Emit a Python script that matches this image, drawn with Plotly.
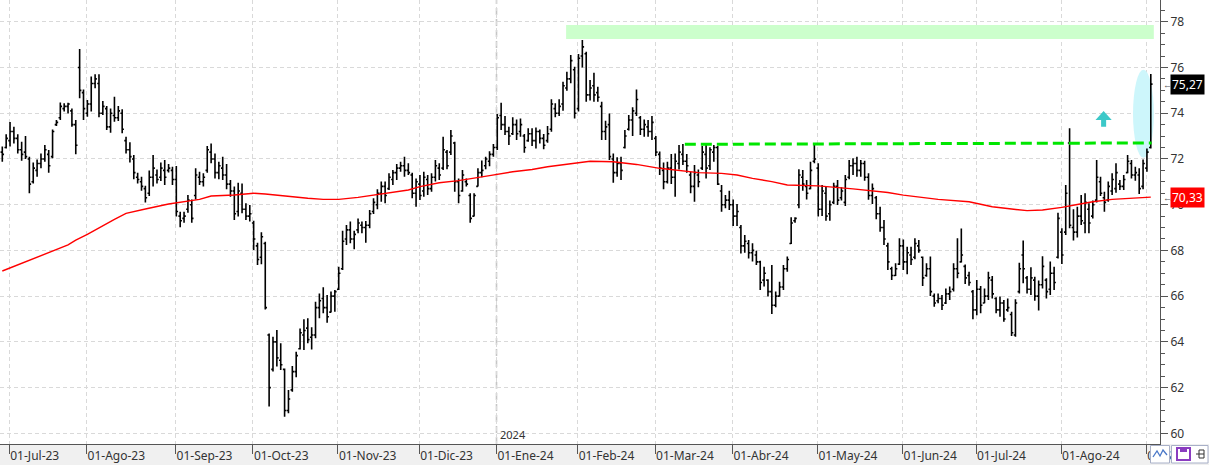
import pandas as pd
import plotly.graph_objects as go

# ---------------- data ----------------
first_day = "2023-06-29"
last_day = "2024-09-04"
market_holidays = ["2023-07-04", "2023-09-04", "2023-11-23", "2023-12-25", "2024-01-01",
                   "2024-01-15", "2024-02-19", "2024-03-29", "2024-05-27", "2024-06-19",
                   "2024-07-04", "2024-09-02"]
month_abbr = ["Ene", "Feb", "Mar", "Abr", "May", "Jun", "Jul", "Ago", "Sep", "Oct", "Nov", "Dic"]

high = [72.54, 73.08, 73.61, 73.41, 73.08, 72.75, 73.0, 72.1, 71.84, 71.98,
        72.24, 72.61, 72.39, 73.29, 73.7, 74.47, 74.43, 74.46, 74.21, 73.7,
        76.81, 75.04, 74.58, 75.6, 75.7, 75.7, 74.53, 74.31, 74.21, 74.72,
        74.31, 74.17, 72.97, 72.73, 72.17, 71.4, 71.22, 70.83, 71.49, 72.17,
        71.54, 71.84, 71.95, 71.78, 71.66, 71.69, 69.69, 69.69, 70.42, 70.23,
        71.59, 71.44, 71.37, 72.57, 72.68, 72.24, 71.88, 72.1, 71.78, 71.08,
        70.79, 70.96, 70.93, 70.06, 69.99, 69.3, 68.34, 68.79, 68.38, 64.37,
        64.23, 64.52, 63.94, 62.84, 61.9, 62.95, 63.57, 64.59, 64.99, 65.03,
        64.64, 65.76, 66.12, 66.39, 66.05, 66.2, 66.27, 67.29, 68.86, 69.11,
        69.26, 68.86, 69.4, 69.26, 69.29, 69.77, 70.28, 70.67, 71.01, 71.01,
        71.37, 71.52, 71.78, 71.88, 72.1, 71.81, 71.4, 71.15, 71.3, 71.44,
        71.3, 71.37, 71.95, 71.81, 72.97, 72.39, 73.27, 72.75, 71.15, 71.52,
        71.15, 70.5, 70.5, 71.59, 71.93, 72.1, 72.34, 72.65, 73.96, 74.46,
        73.88, 73.41, 73.82, 73.73, 73.77, 73.09, 73.34, 73.34, 73.38, 73.29,
        73.09, 73.44, 74.61, 74.43, 74.61, 75.38, 75.81, 76.54, 76.03, 76.59,
        77.2, 76.69, 75.45, 75.77, 75.16, 74.5, 73.67, 73.99, 72.24, 72.07,
        72.1, 73.27, 73.92, 74.26, 75.04, 73.88, 73.73, 73.7, 73.88, 73.0,
        72.32, 71.84, 71.88, 72.22, 72.24, 72.61, 72.65, 72.22, 71.44, 71.74,
        71.54, 72.57, 72.61, 72.51, 72.61, 72.57, 70.86, 70.42, 70.61, 70.23,
        70.03, 69.11, 68.67, 68.45, 68.31, 67.99, 67.55, 67.29, 66.74, 67.36,
        66.2, 66.63, 67.36, 67.73, 69.45, 69.45, 71.55, 71.52, 71.08, 71.88,
        72.61, 71.81, 70.86, 70.82, 70.18, 70.96, 71.08, 70.76, 71.3, 71.95,
        72.03, 72.1, 71.95, 71.92, 71.37, 70.93, 70.38, 69.91, 69.33, 68.34,
        67.29, 67.44, 68.53, 68.48, 68.16, 68.16, 68.53, 68.45, 67.73, 67.44,
        67.73, 66.12, 66.12, 66.05, 66.34, 66.42, 67.44, 68.53, 68.96, 67.38,
        67.07, 66.27, 66.71, 66.44, 66.34, 67.07, 66.88, 65.95, 65.98, 65.83,
        65.9, 65.32, 65.86, 67.46, 68.43, 66.88, 67.26, 66.85, 66.68, 67.75,
        66.78, 67.51, 67.29, 69.65, 68.97, 70.86, 73.34, 69.8, 69.91, 70.42,
        70.5, 70.06, 70.18, 71.95, 71.22, 70.57, 71.01, 71.37, 71.81, 71.08,
        71.3, 72.17, 71.95, 71.66, 71.59, 71.98, 72.46, 75.71]

low = [71.88, 72.46, 72.54, 72.68, 72.24, 71.92, 72.0, 70.5, 70.93, 71.22,
       71.59, 71.88, 71.4, 72.03, 73.44, 73.7, 74.07, 73.99, 73.41, 72.2,
       74.65, 73.7, 73.85, 74.07, 75.09, 73.82, 73.92, 73.26, 73.15, 73.63,
       73.66, 73.12, 72.24, 71.84, 71.11, 70.93, 70.61, 70.09, 70.38, 70.79,
       70.93, 71.03, 70.86, 71.41, 70.86, 69.48, 69.01, 69.21, 69.65, 69.21,
       70.23, 70.86, 70.79, 71.4, 71.81, 71.15, 71.11, 71.08, 70.67, 70.35,
       69.33, 69.48, 69.62, 69.33, 69.26, 68.02, 67.36, 67.39, 65.42, 61.17,
       62.7, 62.92, 62.77, 60.73, 60.88, 61.82, 62.45, 63.67, 63.65, 63.94,
       63.67, 64.16, 65.03, 65.25, 64.84, 65.28, 65.32, 66.27, 67.14, 68.24,
       68.31, 68.05, 68.75, 68.75, 68.34, 68.97, 69.59, 69.8, 70.13, 70.06,
       70.64, 70.86, 71.08, 71.44, 71.22, 71.3, 70.28, 69.91, 70.2, 70.35,
       70.42, 70.57, 71.01, 71.08, 71.52, 71.55, 72.17, 70.57, 70.06, 70.57,
       70.79, 69.21, 69.48, 70.79, 71.2, 71.55, 71.68, 72.1, 72.39, 73.27,
       73.05, 72.61, 73.05, 72.83, 72.97, 72.27, 72.75, 72.57, 72.46, 72.68,
       72.42, 72.71, 73.19, 73.82, 73.88, 74.11, 74.98, 75.31, 73.77, 74.07,
       76.0, 74.5, 74.55, 74.5, 74.5, 72.83, 72.83, 71.95, 70.96, 71.22,
       71.08, 72.46, 73.24, 73.0, 73.88, 73.05, 72.97, 72.97, 72.83, 72.13,
       71.3, 70.67, 70.93, 70.9, 70.35, 71.54, 71.74, 71.4, 70.5, 70.13,
       70.76, 71.52, 71.15, 71.52, 71.88, 70.86, 69.69, 69.84, 69.77, 69.07,
       69.07, 67.87, 67.9, 67.65, 67.51, 67.36, 66.27, 66.42, 65.98, 65.22,
       65.51, 65.98, 66.27, 67.07, 68.28, 69.21, 69.84, 70.61, 70.23, 70.67,
       71.81, 69.48, 69.5, 69.3, 69.3, 70.03, 69.99, 70.18, 69.94, 71.11,
       71.3, 71.22, 71.22, 71.05, 70.21, 70.03, 69.36, 68.82, 68.24, 67.14,
       66.71, 66.88, 67.36, 67.14, 66.96, 67.36, 67.61, 67.9, 66.44, 66.85,
       66.01, 65.54, 65.69, 65.39, 65.66, 65.83, 66.2, 66.78, 67.47, 66.53,
       66.45, 64.99, 65.17, 65.25, 65.69, 65.83, 65.9, 65.25, 65.1, 64.88,
       65.32, 64.26, 64.23, 66.12, 66.56, 66.12, 66.05, 65.8, 65.37, 66.34,
       65.9, 66.05, 66.27, 67.65, 67.41, 68.67, 68.97, 68.43, 68.57, 69.11,
       68.75, 68.75, 69.4, 70.09, 70.38, 69.69, 70.13, 70.42, 70.52, 70.64,
       70.64, 71.37, 71.15, 71.05, 70.47, 70.67, 71.44, 72.46]

open_ = [72.3, 72.5, 72.8, 73.2, 72.9, 72.4, 72.3, 72.0, 71.0, 71.5,
         71.8, 72.0, 72.2, 72.1, 73.5, 73.8, 74.2, 74.3, 74.1, 73.5,
         76.0, 74.9, 74.0, 74.4, 75.3, 75.3, 74.0, 74.2, 73.4, 73.9,
         73.8, 74.0, 72.8, 72.4, 72.0, 71.2, 71.0, 70.7, 70.5, 71.2,
         71.3, 71.2, 71.5, 71.5, 71.5, 71.1, 69.5, 69.4, 69.8, 70.0,
         70.4, 71.2, 71.0, 71.5, 72.3, 72.0, 71.4, 71.6, 71.3, 70.9,
         70.6, 69.7, 70.5, 69.8, 69.5, 69.2, 68.2, 67.7, 68.3, 64.3,
         62.8, 64.0, 63.2, 62.8, 61.0, 61.9, 62.7, 63.7, 64.3, 64.6,
         64.2, 64.3, 65.5, 65.9, 65.5, 65.3, 66.0, 66.3, 67.2, 68.5,
         68.9, 68.5, 68.9, 69.1, 69.0, 69.1, 69.7, 70.0, 70.5, 70.8,
         70.7, 71.1, 71.4, 71.6, 71.7, 71.5, 71.3, 70.5, 70.9, 70.6,
         71.1, 70.7, 71.2, 71.6, 71.6, 72.3, 72.3, 72.7, 71.0, 70.6,
         71.0, 70.4, 69.5, 70.8, 71.4, 71.7, 71.9, 72.2, 72.5, 73.9,
         73.5, 73.2, 73.1, 73.5, 73.2, 73.0, 72.8, 73.1, 72.8, 73.2,
         72.9, 72.8, 73.3, 74.2, 74.0, 74.4, 75.1, 75.5, 75.9, 74.2,
         76.5, 76.6, 74.8, 75.2, 74.9, 74.3, 73.2, 73.5, 72.0, 71.4,
         71.8, 72.5, 73.3, 73.7, 74.0, 73.8, 73.3, 73.4, 73.2, 72.9,
         72.2, 71.5, 71.0, 71.6, 71.2, 71.8, 72.2, 71.9, 71.3, 70.8,
         71.3, 71.6, 72.2, 71.7, 72.3, 72.5, 70.6, 70.0, 70.2, 70.0,
         69.5, 69.0, 68.2, 68.3, 67.9, 67.8, 67.5, 66.7, 66.7, 66.2,
         65.6, 66.0, 66.4, 67.2, 68.3, 69.3, 70.0, 71.2, 70.8, 70.7,
         71.9, 71.6, 69.8, 70.5, 69.6, 70.1, 70.8, 70.3, 70.1, 71.2,
         71.7, 71.8, 71.5, 71.8, 71.2, 70.4, 70.3, 69.6, 69.0, 68.2,
         67.2, 66.9, 67.4, 68.2, 67.5, 67.8, 67.7, 68.2, 67.7, 66.9,
         67.2, 66.0, 65.8, 65.9, 65.7, 66.1, 66.3, 67.2, 67.5, 67.3,
         66.9, 66.2, 65.4, 66.3, 65.7, 66.0, 66.7, 65.9, 65.4, 65.7,
         65.4, 65.2, 64.3, 66.2, 67.8, 66.8, 66.3, 66.7, 66.0, 66.5,
         66.7, 66.3, 67.0, 67.7, 68.8, 68.8, 72.7, 69.0, 68.8, 69.5,
         69.2, 69.8, 69.5, 70.2, 71.0, 70.3, 70.2, 70.6, 70.7, 70.9,
         70.8, 71.4, 71.8, 71.3, 71.3, 70.8, 71.6, 72.5]

close = [72.2, 72.9, 73.2, 72.9, 72.4, 72.2, 72.1, 70.9, 71.6, 71.8,
         72.0, 72.4, 71.7, 73.2, 73.6, 74.3, 74.3, 74.4, 73.5, 72.6,
         75.0, 74.2, 74.4, 75.3, 75.5, 74.0, 74.3, 73.4, 74.0, 73.8,
         74.1, 73.3, 72.4, 72.1, 71.4, 71.1, 70.8, 70.3, 71.2, 71.6,
         71.1, 71.6, 71.2, 71.6, 71.1, 69.7, 69.3, 69.5, 70.2, 69.4,
         71.3, 71.0, 71.2, 72.4, 72.0, 71.4, 71.7, 71.3, 70.9, 70.6,
         69.6, 70.6, 69.8, 69.5, 69.6, 68.5, 67.6, 68.6, 65.5, 62.0,
         64.0, 63.3, 63.0, 61.0, 61.5, 62.7, 63.4, 64.4, 64.5, 64.1,
         64.3, 65.5, 65.8, 65.5, 65.1, 66.0, 66.2, 67.0, 68.4, 68.9,
         68.5, 68.7, 69.2, 69.0, 69.1, 69.6, 70.1, 70.5, 70.8, 70.4,
         71.2, 71.4, 71.6, 71.7, 71.5, 71.4, 70.5, 71.0, 70.4, 71.2,
         70.7, 71.2, 71.7, 71.3, 72.4, 71.7, 73.0, 71.0, 70.4, 71.3,
         70.9, 69.4, 70.4, 71.4, 71.5, 72.0, 72.2, 72.5, 73.8, 73.5,
         73.2, 73.0, 73.5, 73.1, 73.5, 72.5, 73.1, 72.8, 73.2, 72.9,
         72.6, 73.1, 74.4, 74.0, 74.3, 75.2, 75.5, 76.3, 74.0, 76.4,
         76.9, 74.8, 75.1, 74.8, 74.7, 73.2, 73.4, 72.1, 71.4, 71.8,
         71.5, 73.0, 73.7, 74.1, 74.6, 73.3, 73.5, 73.2, 73.6, 72.3,
         71.6, 71.0, 71.6, 71.2, 71.9, 72.3, 71.9, 71.7, 70.8, 71.4,
         71.0, 72.3, 71.6, 72.4, 72.5, 70.9, 70.0, 70.2, 70.0, 69.5,
         69.7, 68.2, 68.4, 67.9, 68.0, 67.5, 66.6, 67.0, 66.2, 65.6,
         66.0, 66.4, 67.2, 67.6, 69.2, 69.4, 71.3, 70.9, 70.5, 71.5,
         72.0, 69.8, 70.6, 69.5, 70.0, 70.8, 70.2, 70.6, 71.1, 71.7,
         71.8, 71.5, 71.8, 71.2, 70.4, 70.7, 69.6, 69.0, 68.5, 67.5,
         66.9, 67.2, 68.2, 67.5, 67.9, 67.6, 68.3, 68.0, 66.8, 67.2,
         66.2, 65.7, 65.9, 65.6, 66.1, 66.2, 67.2, 67.0, 67.8, 66.8,
         66.6, 65.4, 66.3, 65.6, 66.0, 66.8, 66.1, 65.4, 65.7, 65.0,
         65.5, 64.4, 65.7, 67.2, 67.2, 66.3, 66.8, 66.0, 66.5, 67.3,
         66.2, 67.0, 66.6, 69.4, 67.8, 70.5, 69.1, 68.8, 69.5, 69.3,
         70.1, 69.2, 70.0, 71.2, 70.5, 70.1, 70.8, 71.1, 71.4, 70.8,
         71.1, 71.9, 71.3, 71.4, 70.7, 71.8, 72.3, 75.27]

# moving average (red line), read at selected sessions (index into the trading-day list)
ma_bar = [0, 5, 12, 17, 19, 22, 29, 32, 37, 43, 51, 54, 60, 65, 68, 74, 79, 83, 87, 92,
          96, 100, 105, 108, 113, 118, 122, 126, 132, 137, 141, 145, 149, 152, 158, 164,
          170, 175, 180, 186, 190, 194, 199, 203, 211, 220, 229, 233, 242, 250, 256, 261,
          265, 269, 274, 278, 282, 287, 291, 297]
ma_val = [67.10, 67.44, 67.92, 68.24, 68.45, 68.70, 69.36, 69.62, 69.81, 70.03, 70.23,
          70.38, 70.42, 70.50, 70.47, 70.35, 70.28, 70.23, 70.23, 70.32, 70.42, 70.50,
          70.64, 70.79, 70.96, 71.05, 71.15, 71.27, 71.44, 71.54, 71.66, 71.74, 71.84,
          71.90, 71.88, 71.76, 71.59, 71.49, 71.40, 71.37, 71.30, 71.15, 71.01, 70.86,
          70.82, 70.69, 70.53, 70.42, 70.23, 70.13, 69.91, 69.81, 69.74, 69.77, 69.88,
          70.01, 70.13, 70.23, 70.28, 70.33]

# drawn annotations
zone_start, zone_low, zone_high = "2024-01-29", 77.25, 77.86
resist_start, resist_v0, resist_v1 = "2024-03-12", 72.64, 72.70
ellipse_from, ellipse_to, ellipse_low, ellipse_high = "2024-08-27", "2024-09-04", 72.05, 75.90
arrow_date, arrow_tip, arrow_base, arrow_tail = "2024-08-16", 74.10, 73.70, 73.41
y_ticks = list(range(60, 79, 2))

# ---------------- derived ----------------
dates = pd.bdate_range(first_day, last_day)
dates = dates[~dates.isin(pd.to_datetime(market_holidays))]
n = len(close)
dates = dates[:n]
xs = list(range(n))
pos = {d.strftime("%Y-%m-%d"): i for i, d in enumerate(dates)}

tick_idx, tick_txt = [], []
prev = None
for i, d in enumerate(dates):
    if prev is not None and d.month != prev:
        tick_idx.append(i - 0.2)
        tick_txt.append(f"01-{month_abbr[d.month - 1]}-{d.strftime('%y')}")
    prev = d.month
jan_idx = [t for t, s in zip(tick_idx, tick_txt) if "Ene" in s][0]

PX = 3.867  # pixel per session (for ranges)
x_lo = -2.3 / PX
x_hi = x_lo + 1160 / PX

fig = go.Figure()
fig.add_trace(go.Ohlc(x=xs, open=open_, high=high, low=low, close=close,
                      increasing=dict(line=dict(color="black", width=1.6)),
                      decreasing=dict(line=dict(color="black", width=1.6)),
                      tickwidth=0.45, hoverinfo="skip", showlegend=False))
fig.add_trace(go.Scatter(x=ma_bar, y=ma_val, mode="lines",
                         line=dict(color="#ff0000", width=1.4),
                         hoverinfo="skip", showlegend=False))

grid = "#d9d9d9"
font = "Noto Sans"
shapes = []
# white background behind the price axis
shapes.append(dict(type="rect", xref="paper", yref="paper", x0=1, x1=1209 / 1160, y0=0, y1=1,
                   fillcolor="white", line=dict(width=0), layer="below"))
# resistance zone
shapes.append(dict(type="rect", xref="x", yref="y", x0=pos[zone_start] - 0.2, x1=x_hi - 1.6,
                   y0=zone_low, y1=zone_high, fillcolor="#ccffcc", line=dict(width=0), layer="between"))
# ellipse
shapes.append(dict(type="circle", xref="x", yref="y", x0=pos[ellipse_from] + 0.4,
                   x1=pos[ellipse_to] + 0.8, y0=ellipse_low, y1=ellipse_high,
                   fillcolor="#cdf6fb", line=dict(width=0), layer="between"))
# year separator
shapes.append(dict(type="line", xref="x", yref="paper", x0=jan_idx, x1=jan_idx, y0=0, y1=1,
                   line=dict(color="#c6c6c6", width=1.6, dash="7px,4px"), layer="between"))
# green dashed resistance line
shapes.append(dict(type="line", xref="x", yref="y", x0=pos[resist_start] + 0.5, x1=n - 1 + 0.2,
                   y0=resist_v0, y1=resist_v1,
                   line=dict(color="#00e600", width=3, dash="11px,5px"), layer="above"))
# cyan up arrow
ax = pos[arrow_date] - 0.2
hw, sw = 2.1, 0.65
path = (f"M {ax-hw},{arrow_base} L {ax},{arrow_tip} L {ax+hw},{arrow_base} "
        f"L {ax+sw},{arrow_base} L {ax+sw},{arrow_tail} L {ax-sw},{arrow_tail} "
        f"L {ax-sw},{arrow_base} Z")
shapes.append(dict(type="path", xref="x", yref="y", path=path, fillcolor="#3cc8c8",
                   line=dict(width=0), layer="above"))


def pxx(p):
    return p / 1160


def pyy(p):
    return (444 - p) / 444


# bottom-right tool icons
shapes.append(dict(type="rect", xref="paper", yref="paper", x0=pxx(1150.5), x1=pxx(1169.5),
                   y0=pyy(463), y1=pyy(445.5), fillcolor="white",
                   line=dict(color="#a8b0c8", width=1), layer="above"))
shapes.append(dict(type="rect", xref="paper", yref="paper", x0=pxx(1171.5), x1=pxx(1208),
                   y0=pyy(463), y1=pyy(445.5), fillcolor="white",
                   line=dict(color="#a8b0c8", width=1), layer="above"))
shapes.append(dict(type="path", xref="paper", yref="paper",
                   path=(f"M {pxx(1153)},{pyy(457)} L {pxx(1157)},{pyy(451)} L {pxx(1160)},{pyy(456)} "
                         f"L {pxx(1163)},{pyy(450)} L {pxx(1167)},{pyy(455)}"),
                   line=dict(color="#4a78c8", width=1.3), layer="above"))
shapes.append(dict(type="rect", xref="paper", yref="paper", x0=pxx(1177), x1=pxx(1190),
                   y0=pyy(460), y1=pyy(448), fillcolor="white",
                   line=dict(color="#8a3cc0", width=2), layer="above"))
shapes.append(dict(type="rect", xref="paper", yref="paper", x0=pxx(1180), x1=pxx(1187),
                   y0=pyy(452), y1=pyy(448), fillcolor="#8a3cc0",
                   line=dict(width=0), layer="above"))
shapes.append(dict(type="path", xref="paper", yref="paper",
                   path=(f"M {pxx(1196)},{pyy(454)} L {pxx(1204)},{pyy(454)} "
                         f"M {pxx(1199)},{pyy(450)} L {pxx(1199)},{pyy(458)} "
                         f"M {pxx(1199)},{pyy(450)} L {pxx(1204)},{pyy(450)} L {pxx(1204)},{pyy(458)} L {pxx(1199)},{pyy(458)}"),
                   line=dict(color="#333", width=1), layer="above"))

last_close = close[-1]
last_ma = ma_val[-1]
annotations = [
    dict(text="2024", xref="x", yref="paper", x=jan_idx, y=0, xanchor="left", yanchor="bottom",
         xshift=1, yshift=0, showarrow=False, font=dict(family=font, size=11, color="#333")),
    dict(text=f"{last_close:.2f}".replace(".", ","), xref="paper", yref="y", x=1170 / 1160,
         y=last_close, xanchor="left", yanchor="middle", showarrow=False, bgcolor="black",
         borderpad=1, font=dict(family=font, size=12, color="white")),
    dict(text=f"{last_ma:.2f}".replace(".", ","), xref="paper", yref="y", x=1170 / 1160,
         y=last_ma, xanchor="left", yanchor="middle", showarrow=False, bgcolor="#ff0000",
         borderpad=1, font=dict(family=font, size=12, color="white")),
    dict(text="←", xref="paper", yref="y", x=1160.5 / 1160, y=last_close, xanchor="left",
         yanchor="middle", showarrow=False, font=dict(family=font, size=9, color="#555")),
    dict(text="←", xref="paper", yref="y", x=1160.5 / 1160, y=last_ma, xanchor="left",
         yanchor="middle", showarrow=False, font=dict(family=font, size=9, color="#555")),
]

fig.update_layout(
    width=1209, height=465,
    margin=dict(l=0, r=49, t=0, b=21),
    paper_bgcolor="#f0f0f0", plot_bgcolor="white",
    shapes=shapes, annotations=annotations,
    showlegend=False,
    xaxis=dict(range=[x_lo, x_hi], tickmode="array", tickvals=tick_idx, ticktext=tick_txt,
               ticks="outside", ticklen=9, tickcolor="#555", tickwidth=1,
               showline=True, linecolor="#555", linewidth=1,
               showgrid=True, gridcolor=grid, griddash="4px,3px", gridwidth=1,
               zeroline=False, ticklabelposition="outside right", ticklabelstandoff=1,
               tickfont=dict(family=font, size=12, color="#333"),
               rangeslider=dict(visible=False), fixedrange=True),
    yaxis=dict(range=[59.535, 78.95], side="right", tickmode="array", tickvals=y_ticks,
               ticktext=[str(v) for v in y_ticks],
               ticks="outside", ticklen=7, tickcolor="#555",
               minor=dict(dtick=0.5, tick0=0, ticks="outside", ticklen=4, tickcolor="#555",
                          showgrid=False),
               showline=True, linecolor="#555", linewidth=1,
               showgrid=True, gridcolor=grid, griddash="4px,3px", gridwidth=1,
               zeroline=False, tickfont=dict(family=font, size=12, color="#333"),
               fixedrange=True),
)

fig.write_html("out.html", config={"displayModeBar": False},
               post_script="document.body.style.margin='0';document.body.style.overflow='hidden';")
